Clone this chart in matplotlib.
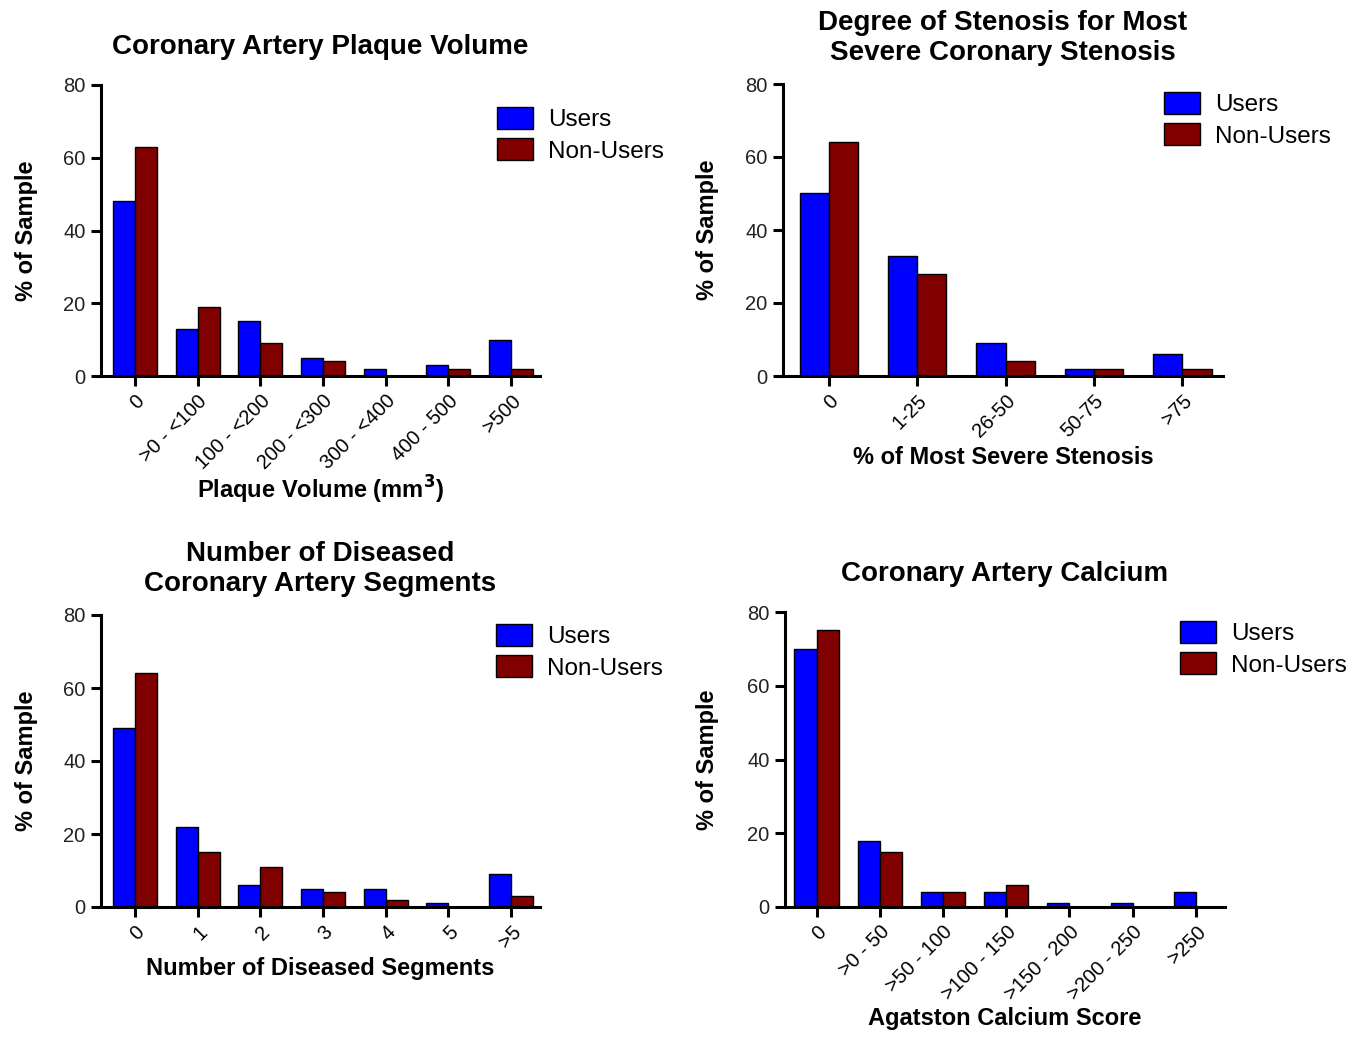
import matplotlib
matplotlib.use("Agg")
import numpy as np
import matplotlib.pyplot as plt

plt.rcParams['font.family'] = ['Liberation Sans', 'DejaVu Sans']

BLUE = '#0000FF'
RED = '#800000'

# --- data -------------------------------------------------------------
plaque_cats = ['0', '>0 - <100', '100 - <200', '200 - <300', '300 - <400', '400 - 500', '>500']
plaque_users = [48, 13, 15, 5, 2, 3, 10]
plaque_non = [63, 19, 9, 4, 0, 2, 2]

sten_cats = ['0', '1-25', '26-50', '50-75', '>75']
sten_users = [50, 33, 9, 2, 6]
sten_non = [64, 28, 4, 2, 2]

seg_cats = ['0', '1', '2', '3', '4', '5', '>5']
seg_users = [49, 22, 6, 5, 5, 1, 9]
seg_non = [64, 15, 11, 4, 2, 0, 3]

cac_cats = ['0', '>0 - 50', '>50 - 100', '>100 - 150', '>150 - 200', '>200 - 250', '>250']
cac_users = [70, 18, 4, 4, 1, 1, 4]
cac_non = [75, 15, 4, 6, 0, 0, 0]

W, H = 1358, 1038
fig = plt.figure(figsize=(W / 100, H / 100), dpi=100)


def px_axes(x0, x1, y0, y1):
    # pixel box -> figure fraction axes
    return fig.add_axes([x0 / W, 1 - y1 / H, (x1 - x0) / W, (y1 - y0) / H])


def panel(ax, box, cats, users, non, width, xlim, title, tpad, xlabel, xlab_y, ylab_x, leg_xy):
    x0, x1, y0, y1 = box
    x = np.arange(len(cats))
    ax.bar(x - width / 2, users, width, color=BLUE, edgecolor='black',
           linewidth=1, label='Users')
    ax.bar(x + width / 2, non, width, color=RED, edgecolor='black',
           linewidth=1, label='Non-Users')
    ax.set_xlim(*xlim)
    ax.set_ylim(0, 80)
    ax.set_yticks([0, 20, 40, 60, 80])
    ax.set_xticks(x)
    ax.set_xticklabels(cats, rotation=45, ha='right', rotation_mode='anchor')
    for s in ['top', 'right']:
        ax.spines[s].set_visible(False)
    for s in ['left', 'bottom']:
        ax.spines[s].set_linewidth(2.2)
    ax.tick_params(axis='both', direction='out', length=7, width=2.2,
                   labelsize=14.5, colors='black', pad=4)
    ax.tick_params(axis='y', labelcolor='#222222')
    ax.set_title(title, fontsize=20, fontweight='bold', pad=tpad, linespacing=1.2)
    ax.set_xlabel(xlabel, fontsize=17, fontweight='bold')
    ax.xaxis.label.set_va('center')
    ax.xaxis.set_label_coords(0.5, (y1 - xlab_y) / (y1 - y0))
    ax.set_ylabel('% of Sample', fontsize=17, fontweight='bold')
    ax.yaxis.label.set_va('center')
    ax.yaxis.set_label_coords((ylab_x - x0) / (x1 - x0), 0.5)
    ax.legend(loc='upper left', bbox_to_anchor=(leg_xy[0] / W, 1 - leg_xy[1] / H),
              bbox_transform=fig.transFigure, frameon=False, fontsize=17.5,
              handlelength=1.5, handleheight=1.0, handletextpad=0.6,
              borderpad=0, borderaxespad=0, labelspacing=0.3)


b1 = (101, 540, 85, 376)
ax1 = px_axes(*b1)
panel(ax1, b1, plaque_cats, plaque_users, plaque_non, 0.35, (-0.54, 6.46),
      'Coronary Artery Plaque Volume', 22,
      'Plaque Volume (mm$^\\mathbf{3}$)', 490, 26, (497, 107))

b2 = (783, 1223, 84, 376)
ax2 = px_axes(*b2)
panel(ax2, b2, sten_cats, sten_users, sten_non, 0.33, (-0.52, 4.46),
      'Degree of Stenosis for Most\nSevere Coronary Stenosis', 17,
      '% of Most Severe Stenosis', 458, 708, (1164, 92))

b3 = (101, 540, 615, 907)
ax3 = px_axes(*b3)
panel(ax3, b3, seg_cats, seg_users, seg_non, 0.35, (-0.54, 6.46),
      'Number of Diseased\nCoronary Artery Segments', 17,
      'Number of Diseased Segments', 969, 26, (496, 624))

b4 = (785, 1225, 612, 907)
ax4 = px_axes(*b4)
panel(ax4, b4, cac_cats, cac_users, cac_non, 0.35, (-0.5, 6.46),
      'Coronary Artery Calcium', 22,
      'Agatston Calcium Score', 1019, 708, (1180, 621))

fig.savefig('out.png', dpi=100, facecolor='white')
